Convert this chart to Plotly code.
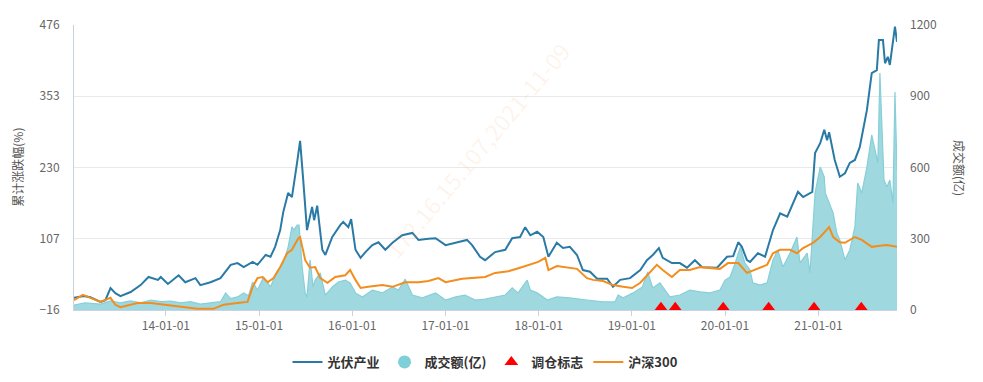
import plotly.graph_objects as go

# ---------------- data ----------------
pv_dates = ["2013-01-06","2013-02-14","2013-03-11","2013-04-20","2013-05-09","2013-05-29","2013-06-17","2013-07-07",
            "2013-08-16","2013-09-24","2013-10-25","2013-12-01","2013-12-12","2014-01-09","2014-02-20","2014-03-18",
            "2014-04-27","2014-05-16","2014-06-25","2014-08-03","2014-09-12","2014-10-09","2014-11-02","2014-12-07",
            "2014-12-26","2015-01-27","2015-02-15","2015-03-05","2015-03-25","2015-04-06","2015-04-25","2015-05-10",
            "2015-05-30","2015-06-11","2015-06-23","2015-07-08","2015-07-28","2015-08-05","2015-08-17","2015-09-06",
            "2015-09-18","2015-10-15","2015-11-16","2015-11-27","2015-12-17","2015-12-28","2016-01-14","2016-02-03",
            "2016-02-22","2016-03-20","2016-04-13","2016-05-10","2016-06-07","2016-07-15","2016-08-24","2016-09-17",
            "2016-10-26","2016-11-23","2017-01-01","2017-02-10","2017-03-26","2017-04-15","2017-05-16","2017-06-05",
            "2017-07-14","2017-08-23","2017-09-19","2017-10-20","2017-11-09","2017-11-29","2017-12-26","2018-01-19",
            "2018-02-08","2018-03-13","2018-04-06","2018-05-03","2018-05-31","2018-06-23","2018-07-21","2018-08-18",
            "2018-09-26","2018-10-19","2018-11-16","2018-12-25","2019-02-03","2019-03-01","2019-03-24","2019-04-17",
            "2019-05-02","2019-06-07","2019-07-08","2019-08-05","2019-09-05","2019-10-03","2019-11-04","2019-12-01",
            "2020-01-09","2020-02-02","2020-02-22","2020-03-07","2020-03-27","2020-04-08","2020-05-09","2020-06-06",
            "2020-07-07","2020-08-04","2020-09-01","2020-09-24","2020-10-13","2020-11-02","2020-12-08","2020-12-19",
            "2021-01-08","2021-01-24","2021-02-04","2021-02-12","2021-03-06","2021-03-26","2021-04-15","2021-05-04",
            "2021-05-24","2021-06-12","2021-07-10","2021-07-29","2021-08-18","2021-08-26","2021-09-11","2021-09-19",
            "2021-09-30","2021-10-08","2021-10-28","2021-11-05"]
pv_values = [5, 8, 6, -2, 1, 22, 13, 8,
             15, 27, 41, 36, 41, 29, 44, 32,
             39, 27, 32, 39, 62, 65, 58, 67,
             62, 79, 76, 93, 122, 153, 186, 179,
             238, 276, 210, 122, 162, 139, 164, 88,
             79, 110, 131, 136, 127, 141, 88, 74,
             84, 96, 101, 88, 100, 113, 117, 105,
             107, 108, 96, 100, 105, 96, 76, 70,
             84, 88, 108, 110, 127, 113, 119, 110,
             76, 100, 91, 93, 79, 53, 50, 38,
             38, 24, 36, 39, 53, 70, 79, 91,
             74, 65, 65, 57, 70, 58, 58, 57,
             76, 77, 101, 93, 70, 67, 82, 76,
             122, 151, 145, 169, 188, 179, 188, 255,
             272, 295, 277, 291, 243, 214, 220, 238,
             243, 265, 329, 393, 398, 450, 450, 410,
             421, 407, 473, 447]

hs_dates = ["2013-01-06","2013-02-10","2013-03-11","2013-04-20","2013-05-29","2013-06-17","2013-07-07","2013-09-12",
            "2013-11-03","2013-12-24","2014-02-16","2014-05-04","2014-07-06","2014-08-15","2014-10-09","2014-11-17",
            "2014-12-07","2014-12-26","2015-01-15","2015-02-04","2015-02-27","2015-03-25","2015-04-21","2015-05-10",
            "2015-06-04","2015-06-11","2015-07-01","2015-07-20","2015-08-09","2015-08-29","2015-09-26","2015-10-27",
            "2015-12-05","2015-12-24","2016-01-14","2016-02-03","2016-03-04","2016-04-28","2016-06-07","2016-07-27",
            "2016-09-17","2016-10-26","2016-12-04","2017-01-01","2017-03-07","2017-04-27","2017-06-05","2017-07-14",
            "2017-09-04","2017-10-20","2017-11-29","2017-12-30","2018-01-27","2018-02-08","2018-03-13","2018-04-22",
            "2018-05-31","2018-07-09","2018-08-02","2018-09-10","2018-10-19","2018-11-28","2019-01-02","2019-02-03",
            "2019-03-01","2019-04-09","2019-05-02","2019-06-07","2019-07-08","2019-08-16","2019-09-25","2019-11-04",
            "2019-12-12","2020-01-13","2020-02-22","2020-03-27","2020-05-17","2020-06-14","2020-07-07","2020-08-04",
            "2020-09-12","2020-10-09","2020-11-02","2020-12-11","2021-01-08","2021-02-12","2021-02-28","2021-03-26",
            "2021-04-15","2021-05-04","2021-05-24","2021-06-20","2021-07-29","2021-08-30","2021-09-26","2021-11-05"]
hs_values = [1, 10, 5, -2, 5, -7, -11, -4,
             -4, -7, -9, -14, -14, -7, -4, -2,
             24, 39, 41, 32, 39, 58, 82, 88,
             108, 110, 70, 57, 58, 39, 31, 41,
             44, 53, 36, 22, 24, 27, 24, 32,
             32, 34, 39, 32, 38, 39, 41, 48,
             51, 57, 62, 67, 74, 53, 60, 57,
             55, 39, 36, 34, 27, 24, 22, 31,
             44, 62, 53, 41, 53, 53, 58, 57,
             55, 65, 65, 48, 57, 62, 82, 88,
             88, 82, 91, 100, 110, 127, 110, 101,
             100, 105, 110, 105, 93, 95, 96, 93]

vol_dates = ["2013-01-06","2013-02-18","2013-04-20","2013-05-29","2013-07-07","2013-08-16","2013-09-24","2013-11-03",
             "2013-12-12","2014-01-20","2014-03-01","2014-04-07","2014-05-16","2014-06-25","2014-08-03","2014-08-23",
             "2014-09-12","2014-10-09","2014-11-02","2014-11-21","2014-12-07","2014-12-26","2015-01-19","2015-02-15",
             "2015-03-09","2015-04-06","2015-04-25","2015-05-10","2015-05-18","2015-05-30","2015-06-07","2015-06-19",
             "2015-07-01","2015-07-08","2015-07-20","2015-08-01","2015-08-09","2015-08-29","2015-09-18","2015-10-15",
             "2015-11-08","2015-12-05","2015-12-24","2016-01-14","2016-02-10","2016-03-20","2016-04-28","2016-06-07",
             "2016-06-30","2016-07-27","2016-08-24","2016-10-02","2016-11-23","2017-01-01","2017-02-10","2017-03-18",
             "2017-04-27","2017-06-05","2017-07-14","2017-08-23","2017-09-19","2017-10-12","2017-11-17","2017-11-29",
             "2017-12-26","2018-02-04","2018-03-13","2018-05-03","2018-07-09","2018-09-10","2018-10-27","2018-11-08",
             "2018-11-28","2019-01-06","2019-02-11","2019-03-04","2019-03-24","2019-04-21","2019-05-30","2019-07-08",
             "2019-08-16","2019-09-25","2019-11-04","2019-12-12","2020-01-01","2020-01-21","2020-02-10","2020-03-01",
             "2020-03-19","2020-04-08","2020-04-19","2020-05-17","2020-06-14","2020-07-07","2020-07-26","2020-08-15",
             "2020-09-12","2020-10-09","2020-10-21","2020-11-18","2020-11-29","2020-12-19","2021-01-08","2021-01-24",
             "2021-01-28","2021-02-28","2021-03-14","2021-03-26","2021-04-15","2021-05-04","2021-05-24","2021-06-04",
             "2021-06-20","2021-07-10","2021-07-29","2021-08-22","2021-08-30","2021-09-15","2021-09-26","2021-10-08",
             "2021-10-20","2021-10-28","2021-11-05"]
vol_values = [21, 30, 25, 38, 30, 38, 30, 42,
              35, 38, 30, 35, 25, 30, 35, 72,
              48, 55, 72, 60, 118, 84, 139, 97,
              156, 198, 265, 350, 337, 358, 358, 181,
              72, 55, 211, 97, 126, 156, 63, 97,
              118, 126, 114, 72, 55, 84, 72, 97,
              84, 130, 63, 51, 72, 42, 55, 63,
              42, 46, 55, 63, 93, 72, 126, 84,
              72, 42, 55, 51, 42, 34, 34, 63,
              51, 72, 97, 160, 93, 114, 55, 63,
              84, 76, 72, 84, 126, 139, 198, 265,
              198, 168, 114, 105, 114, 211, 253, 181,
              240, 307, 198, 240, 156, 493, 602, 560,
              493, 408, 324, 295, 211, 253, 350, 535,
              493, 602, 737, 619, 998, 547, 518, 547,
              450, 918, 590]

rebalance_dates = ["2019-04-25", "2019-06-20", "2019-12-25", "2020-06-20", "2020-12-15", "2021-06-18"]
rebalance_values = [-12, -12, -12, -12, -12, -12]

left_ticks = [-16, 107, 230, 353, 476]
right_ticks = [0, 300, 600, 900, 1200]
x_ticks = ["2014-01-01", "2015-01-01", "2016-01-01", "2017-01-01", "2018-01-01",
           "2019-01-01", "2020-01-01", "2021-01-01"]
x_range = ["2013-01-06", "2021-11-05"]

BLUE = "#2a7aa6"
ORANGE = "#f28d1e"
TEAL_LINE = "#86cfd8"
TEAL_FILL = "#a0d8e0"
FONT = "Noto Sans CJK SC, Noto Sans, sans-serif"

fig = go.Figure()

# volume area on base axis (drawn underneath)
fig.add_trace(go.Scatter(x=vol_dates, y=vol_values, yaxis="y", mode="lines",
                         line=dict(color=TEAL_LINE, width=1.2), fill="tozeroy",
                         fillcolor=TEAL_FILL, showlegend=False, hoverinfo="x+y",
                         name="成交额(亿)"))

fig.add_trace(go.Scatter(x=pv_dates, y=pv_values, yaxis="y2", mode="lines",
                         line=dict(color=BLUE, width=2), name="光伏产业", legendrank=1))
fig.add_trace(go.Scatter(x=[None], y=[None], yaxis="y2", mode="markers",
                         marker=dict(symbol="circle", size=13, color="#7ecfd8"),
                         name="成交额(亿)", legendrank=2))
fig.add_trace(go.Scatter(x=rebalance_dates, y=rebalance_values, yaxis="y2", mode="markers",
                         marker=dict(symbol="triangle-up", size=12, color="#ff0000"),
                         cliponaxis=False, name="调仓标志", legendrank=3))
fig.add_trace(go.Scatter(x=hs_dates, y=hs_values, yaxis="y2", mode="lines",
                         line=dict(color=ORANGE, width=2), name="沪深300", legendrank=4))

# the page body has an 8px default margin, so the figure is sized to compensate
fig.update_layout(
    width=975, height=374,
    margin=dict(l=66, r=86, t=17, b=72),
    paper_bgcolor="white", plot_bgcolor="white",
    font=dict(family=FONT, size=12, color="#666666"),
    xaxis=dict(type="date", range=x_range, tickvals=x_ticks, tickformat="%y-%m-%d",
               showgrid=False, showline=True, linecolor="#c9d1e3", linewidth=1,
               ticks="outside", ticklen=5, tickcolor="#c9d1e3", zeroline=False,
               automargin=False, tickfont=dict(size=12, color="#666666")),
    yaxis=dict(range=[0, 1200], tickvals=right_ticks, side="right", showgrid=False,
               zeroline=False, showline=False, ticks="", automargin=False,
               ticklabelstandoff=12, tickfont=dict(size=12, color="#666666")),
    yaxis2=dict(range=[-16, 476], tickvals=left_ticks, side="left", overlaying="y",
                showgrid=True, gridcolor="#e9e9e9", gridwidth=1, zeroline=False,
                showline=True, linecolor="#c9d1e3", linewidth=1, ticks="", automargin=False,
                ticklabelstandoff=11, tickfont=dict(size=12, color="#666666")),
    legend=dict(orientation="h", x=0.5, xanchor="center", xref="paper",
                y=0.0535, yanchor="middle", yref="container",
                font=dict(size=13, color="#333333", weight="bold"), tracegroupgap=0,
                bgcolor="rgba(0,0,0,0)"),
    showlegend=True,
    annotations=[
        dict(text="累计涨跌幅(%)", xref="paper", yref="paper", x=-0.069, y=0.5,
             xanchor="center", yanchor="middle",
             textangle=-90, showarrow=False, font=dict(size=12, color="#555555")),
        dict(text="成交额(亿)", xref="paper", yref="paper", x=1.076, y=0.5,
             xanchor="center", yanchor="middle",
             textangle=90, showarrow=False, font=dict(size=12, color="#555555")),
        dict(text="172.16.15.107,2021-11-09", xref="paper", yref="paper", x=0.49, y=0.56,
             xanchor="center", yanchor="middle",
             textangle=-50, showarrow=False, font=dict(size=23, color="rgba(248,165,100,0.12)")),
    ],
)

fig.write_html("out.html")
